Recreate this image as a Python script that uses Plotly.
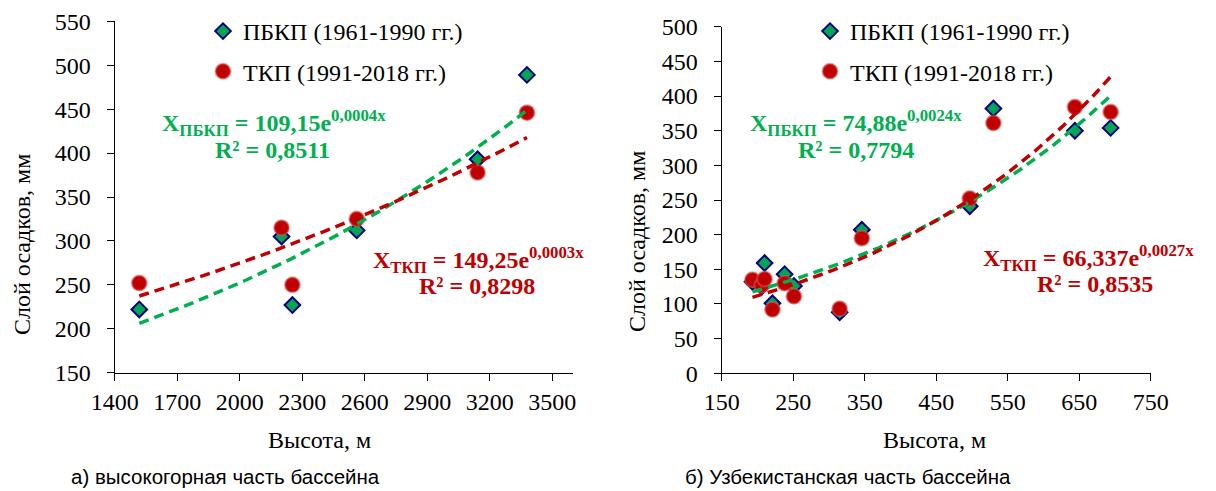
import numpy as np
import plotly.graph_objects as go

# ---------------- data ----------------
# (a) high-mountain part
elev_a = [1518, 2201, 2253, 2562, 3142, 3379]
pbkp_a = [222, 305, 227, 312, 393, 489]
tkp_a = [252, 315, 250, 325, 378, 446]

# (b) Uzbekistan part
elev_b = [193, 206, 210, 221, 238, 251, 315, 346, 497, 530, 644, 694]
pbkp_b = [132, 125, 159, 101, 143, 126, 88, 207, 241, 382, 350, 354]
tkp_b = [135, 127, 136, 92, 130, 111, 93, 195, 252, 361, 384, 377]

xticks_a = [1400, 1700, 2000, 2300, 2600, 2900, 3200, 3500]
yticks_a = [150, 200, 250, 300, 350, 400, 450, 500, 550]
xticks_b = [150, 250, 350, 450, 550, 650, 750]
yticks_b = [0, 50, 100, 150, 200, 250, 300, 350, 400, 450, 500]

name_pbkp = "ПБКП (1961-1990 гг.)"
name_tkp = "ТКП (1991-2018 гг.)"

eq_a_pbkp = ("X<sub>ПБКП</sub> = 109,15e<sup>0,0004x</sup>", "R² = 0,8511")
eq_a_tkp = ("X<sub>ТКП</sub> = 149,25e<sup>0,0003x</sup>", "R² = 0,8298")
eq_b_pbkp = ("X<sub>ПБКП</sub> = 74,88e<sup>0,0024x</sup>", "R² = 0,7794")
eq_b_tkp = ("X<sub>ТКП</sub> = 66,337e<sup>0,0027x</sup>", "R² = 0,8535")

SERIF = "Liberation Serif"
SANS = "Liberation Sans"
GREEN_M = "#00A651"
GREEN_L = "#00B050"
RED = "#C00000"
NAVY = "#000080"

# page body has an 8px margin: size the figure to the visible area
OFF = 8
W, H = 1216 - OFF, 491 - OFF


def px_x(p):
    return (p - OFF) / W


def px_y(p):
    return 1 - (p - OFF) / H


def exp_trend(x, y):
    x = np.asarray(x, float)
    y = np.asarray(y, float)
    b, lna = np.polyfit(x, np.log(y), 1)
    xs = np.linspace(x.min(), x.max(), 120)
    return xs, np.exp(lna) * np.exp(b * xs)


fig = go.Figure()


def add_panel(xv, yp, yt, xa, ya, legend):
    fig.add_trace(go.Scatter(
        x=xv, y=yp, mode="markers", name=name_pbkp, xaxis=xa, yaxis=ya,
        legend=legend, legendgroup=legend + "p",
        marker=dict(symbol="diamond", size=12, color=GREEN_M,
                    line=dict(color=NAVY, width=2))))
    fig.add_trace(go.Scatter(
        x=xv, y=yt, mode="markers", name=name_tkp, xaxis=xa, yaxis=ya,
        legend=legend, legendgroup=legend + "t",
        marker=dict(symbol="circle", size=15, color=RED,
                    line=dict(color="rgba(210,90,90,0.55)", width=2))))
    xs, ys = exp_trend(xv, yp)
    fig.add_trace(go.Scatter(x=xs, y=ys, mode="lines", xaxis=xa, yaxis=ya,
                             showlegend=False, hoverinfo="skip",
                             line=dict(color=GREEN_L, width=3.5, dash="10px,6px")))
    xs, ys = exp_trend(xv, yt)
    fig.add_trace(go.Scatter(x=xs, y=ys, mode="lines", xaxis=xa, yaxis=ya,
                             showlegend=False, hoverinfo="skip",
                             line=dict(color=RED, width=3.5, dash="10px,6px")))


add_panel(elev_a, pbkp_a, tkp_a, "x", "y", "legend")
add_panel(elev_b, pbkp_b, tkp_b, "x2", "y2", "legend2")


def axis(dom, rng, tv, anchor, standoff=None):
    d = dict(domain=dom, range=rng, tickvals=tv, anchor=anchor,
             showline=True, linecolor="black", linewidth=1.3,
             ticks="outside", ticklen=7, tickcolor="black", tickwidth=1.3,
             showgrid=False, zeroline=False, automargin=False,
             tickfont=dict(family=SERIF, size=24, color="black"))
    if standoff is not None:
        d["ticklabelstandoff"] = standoff
    return d


fig.update_layout(
    width=W, height=H,
    margin=dict(l=0, r=0, t=0, b=0),
    paper_bgcolor="white", plot_bgcolor="white",
    xaxis=axis([px_x(114.7), px_x(573)], [1400, 3600], xticks_a, "y"),
    yaxis=axis([px_y(372.7), px_y(21.3)], [150, 550], yticks_a, "x", 11),
    xaxis2=axis([px_x(721.7), px_x(1150.7)], [150, 750], xticks_b, "y2"),
    yaxis2=axis([px_y(373.3), px_y(26.7)], [0, 500], yticks_b, "x2", 11),
    legend=dict(x=px_x(203), y=px_y(9), xanchor="left", yanchor="top",
                font=dict(family=SERIF, size=24, color="black"),
                bgcolor="rgba(0,0,0,0)", traceorder="grouped", tracegroupgap=6),
    legend2=dict(x=px_x(810), y=px_y(9), xanchor="left", yanchor="top",
                 font=dict(family=SERIF, size=24, color="black"),
                 bgcolor="rgba(0,0,0,0)", traceorder="grouped", tracegroupgap=6),
)


def ann(text, cx, cy, color="black", size=24, bold=False, family=SERIF, angle=0):
    if bold:
        text = "<b>" + text + "</b>"
    fig.add_annotation(text=text, x=px_x(cx), y=px_y(cy), xref="paper", yref="paper",
                       xanchor="center", yanchor="middle", showarrow=False,
                       textangle=angle, font=dict(family=family, size=size, color=color))


# equations
ann(eq_a_pbkp[0], 274, 123, GREEN_L, bold=True)
ann(eq_a_pbkp[1], 272, 150, GREEN_L, bold=True)
ann(eq_a_tkp[0], 478, 260, RED, bold=True)
ann(eq_a_tkp[1], 477, 286, RED, bold=True)
ann(eq_b_pbkp[0], 856, 123, GREEN_L, bold=True)
ann(eq_b_pbkp[1], 856, 150, GREEN_L, bold=True)
ann(eq_b_tkp[0], 1088, 258, RED, bold=True)
ann(eq_b_tkp[1], 1095, 284, RED, bold=True)

# axis titles
ann("Слой осадков, мм", 22, 245, angle=-90)
ann("Слой осадков, мм", 637, 242, angle=-90)
ann("Высота, м", 319, 440)
ann("Высота, м", 935, 440)

# captions
ann("а) высокогорная часть бассейна", 225, 476, family=SANS, size=20.5)
ann("б) Узбекистанская часть бассейна", 848, 476, family=SANS, size=20.5)

fig.write_html("out.html")
